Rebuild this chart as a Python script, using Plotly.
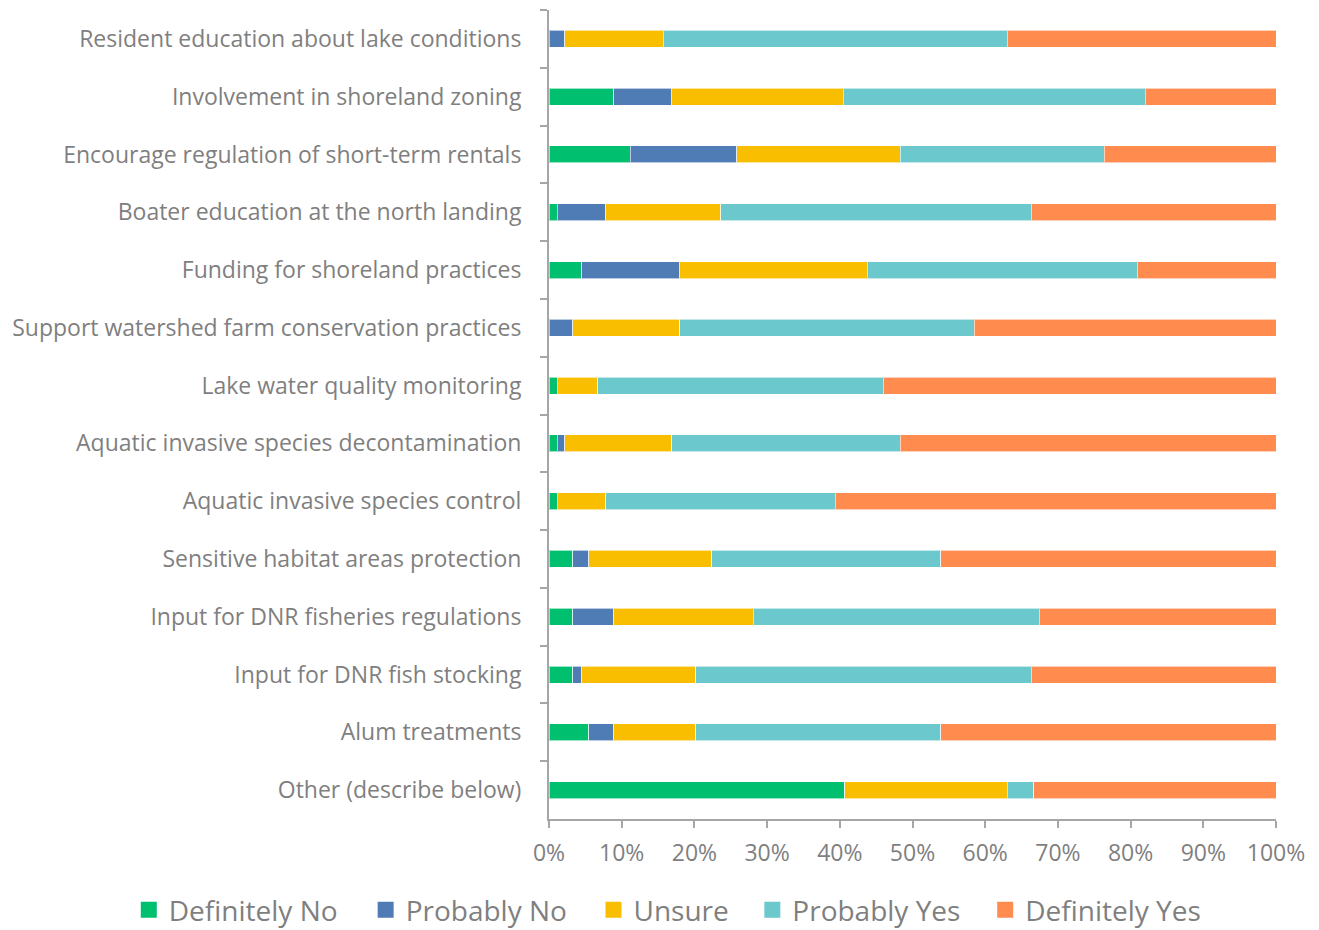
import plotly.graph_objects as go

categorias = [
    "Resident education about lake conditions",
    "Involvement in shoreland zoning",
    "Encourage regulation of short-term rentals",
    "Boater education at the north landing",
    "Funding for shoreland practices",
    "Support watershed farm conservation practices",
    "Lake water quality monitoring",
    "Aquatic invasive species decontamination",
    "Aquatic invasive species control",
    "Sensitive habitat areas protection",
    "Input for DNR fisheries regulations",
    "Input for DNR fish stocking",
    "Alum treatments",
    "Other (describe below)",
]

# porcentajes por respuesta (mismo orden que categorias)
definitely_no = [0, 8.9, 11.2, 1.1, 4.5, 0, 1.1, 1.1, 1.1, 3.3, 3.3, 3.3, 5.5, 40.7]
probably_no = [2.2, 7.9, 14.6, 6.7, 13.4, 3.3, 0, 1.1, 0, 2.2, 5.6, 1.2, 3.4, 0]
unsure = [13.5, 23.7, 22.5, 15.8, 25.9, 14.7, 5.6, 14.7, 6.7, 16.9, 19.2, 15.7, 11.3, 22.3]
probably_yes = [47.3, 41.5, 28.1, 42.7, 37.1, 40.5, 39.3, 31.4, 31.6, 31.5, 39.3, 46.1, 33.7, 3.7]
definitely_yes = [37.0, 18.0, 23.6, 33.7, 19.1, 41.5, 54.0, 51.7, 60.6, 46.1, 32.6, 33.7, 46.1, 33.3]

series = [
    ("Definitely No", definitely_no, "#00BF6F"),
    ("Probably No", probably_no, "#507CB6"),
    ("Unsure", unsure, "#F9BE00"),
    ("Probably Yes", probably_yes, "#6BC8CD"),
    ("Definitely Yes", definitely_yes, "#FF8B4F"),
]

gris = "#7F7F7F"
gris_eje = "#A6A6A6"

# posicion x (paper) de cada leyenda, una por serie
leyenda_x = [-0.578, -0.2522, 0.0612, 0.2797, 0.600]

fig = go.Figure()

for i, (nombre, valores, color) in enumerate(series):
    fig.add_trace(go.Bar(
        y=categorias,
        x=valores,
        name=nombre,
        orientation="h",
        showlegend=False,
        marker=dict(color=color, line=dict(color="rgba(255,255,255,0.6)", width=1)),
    ))
    # traza vacia solo para tener el cuadrado grande en la leyenda
    ley = "legend" if i == 0 else "legend%d" % (i + 1)
    fig.add_trace(go.Scatter(
        x=[None], y=[None],
        mode="markers",
        name=nombre,
        legend=ley,
        marker=dict(symbol="square", size=16, color=color),
        hoverinfo="skip",
    ))

# la pagina deja 8px de margen en el body: el alto sobrante queda fuera de la ventana
layout_leyendas = {}
for i, lx in enumerate(leyenda_x):
    key = "legend" if i == 0 else "legend%d" % (i + 1)
    layout_leyendas[key] = dict(
        orientation="h",
        x=lx, xanchor="left",
        y=-0.1434, yanchor="bottom",
        font=dict(size=28, color=gris),
        bgcolor="rgba(0,0,0,0)",
    )

fig.update_layout(
    barmode="stack",
    bargap=0.705,
    width=1311,
    height=934,
    margin=dict(l=541, r=43, t=2, b=123),
    plot_bgcolor="white",
    paper_bgcolor="white",
    font=dict(family="Open Sans", size=23, color=gris),
    **layout_leyendas,
)

fig.update_xaxes(
    range=[0, 100],
    dtick=10,
    ticksuffix="%",
    showgrid=False,
    zeroline=False,
    showline=True,
    linecolor=gris_eje,
    linewidth=2,
    ticks="outside",
    ticklen=7,
    tickcolor=gris_eje,
    tickwidth=2,
    tickfont=dict(size=23, color=gris),
    ticklabelstandoff=5,
)

fig.update_yaxes(
    autorange="reversed",
    showgrid=False,
    showline=True,
    linecolor=gris_eje,
    linewidth=2,
    ticks="outside",
    tickson="boundaries",
    ticklen=7,
    tickcolor=gris_eje,
    tickwidth=2,
    tickfont=dict(size=23, color=gris),
    ticklabelstandoff=21,
)

fig.write_html("out.html")
